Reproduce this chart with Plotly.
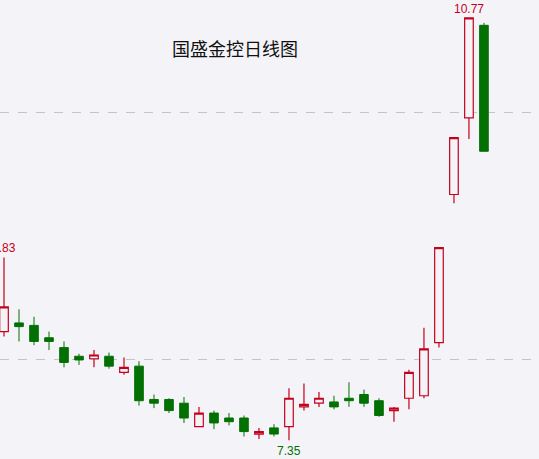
import plotly.graph_objects as go

# daily candles, oldest first (index = trading day)
days = list(range(33))
open_prices = [8.23, 8.30, 8.28, 8.18, 8.10, 8.03, 8.01, 8.03, 7.90, 7.95,
               7.68, 7.68, 7.65, 7.46, 7.57, 7.53, 7.53, 7.40, 7.45, 7.46,
               7.62, 7.65, 7.66, 7.69, 7.72, 7.67, 7.59, 7.69, 7.71, 8.14,
               9.34, 9.96, 10.71]
high_prices = [8.83, 8.41, 8.35, 8.23, 8.15, 8.05, 8.08, 8.06, 8.02, 7.99,
               7.72, 7.69, 7.70, 7.62, 7.59, 7.57, 7.55, 7.45, 7.48, 7.77,
               7.81, 7.74, 7.71, 7.82, 7.76, 7.69, 7.62, 7.92, 8.26, 8.91,
               9.80, 10.77, 10.73]
low_prices = [8.19, 8.15, 8.12, 8.08, 7.94, 7.96, 7.94, 7.93, 7.88, 7.63,
              7.61, 7.57, 7.49, 7.46, 7.44, 7.47, 7.38, 7.36, 7.38, 7.35,
              7.59, 7.62, 7.60, 7.62, 7.62, 7.54, 7.50, 7.60, 7.69, 8.10,
              9.27, 9.79, 9.69]
close_prices = [8.43, 8.27, 8.15, 8.15, 7.98, 8.00, 8.04, 7.95, 7.94, 7.67,
                7.65, 7.59, 7.53, 7.57, 7.49, 7.50, 7.42, 7.42, 7.40, 7.69,
                7.64, 7.69, 7.62, 7.67, 7.65, 7.55, 7.61, 7.90, 8.09, 8.91,
                9.80, 10.77, 9.69]
grid_levels = [8, 10]

BG = "#f4f4f8"
RED = "#c4001c"
GREEN = "#037003"

fig = go.Figure(go.Candlestick(
    x=days, open=open_prices, high=high_prices, low=low_prices, close=close_prices,
    increasing=dict(line=dict(color=RED, width=1.2), fillcolor=BG),
    decreasing=dict(line=dict(color=GREEN, width=1), fillcolor=GREEN),
    whiskerwidth=0, showlegend=False,
))

# mark the highest high / lowest low like the trading software does
i_top = high_prices.index(max(high_prices))
i_low = low_prices.index(min(low_prices))
fig.add_annotation(x=days[i_top], y=high_prices[i_top], text=f"{high_prices[i_top]:.2f}",
                   showarrow=False, yshift=9, font=dict(color=RED, size=12))
fig.add_annotation(x=days[0], y=high_prices[0], text=f"{high_prices[0]:.2f}",
                   showarrow=False, yshift=9, font=dict(color=RED, size=12))
fig.add_annotation(x=days[i_low], y=low_prices[i_low], text=f"{low_prices[i_low]:.2f}",
                   showarrow=False, yshift=-11, font=dict(color=GREEN, size=12))

fig.update_layout(
    width=539, height=459,
    margin=dict(l=0, r=0, t=0, b=0),
    paper_bgcolor=BG, plot_bgcolor=BG,
    boxgap=0.18,
    font=dict(family="Liberation Sans, Arial, sans-serif"),
    title=dict(text="国盛金控日线图", x=0.436, xanchor="center", y=0.891, yanchor="middle",
               font=dict(family="Noto Sans CJK SC", size=18, color="#111111")),
    xaxis=dict(range=[-0.267, 35.67], showgrid=False, zeroline=False, showticklabels=False,
               rangeslider=dict(visible=False)),
    yaxis=dict(range=[7.198, 10.915], tickvals=grid_levels, showticklabels=False,
               showgrid=True, gridcolor="#c4c4c4", griddash="dash", gridwidth=1, zeroline=False),
)

# drop the default page margin so the chart sits at the window corner
fig.write_html("out.html", config={"displayModeBar": False},
               post_script="document.body.style.margin='0';")
